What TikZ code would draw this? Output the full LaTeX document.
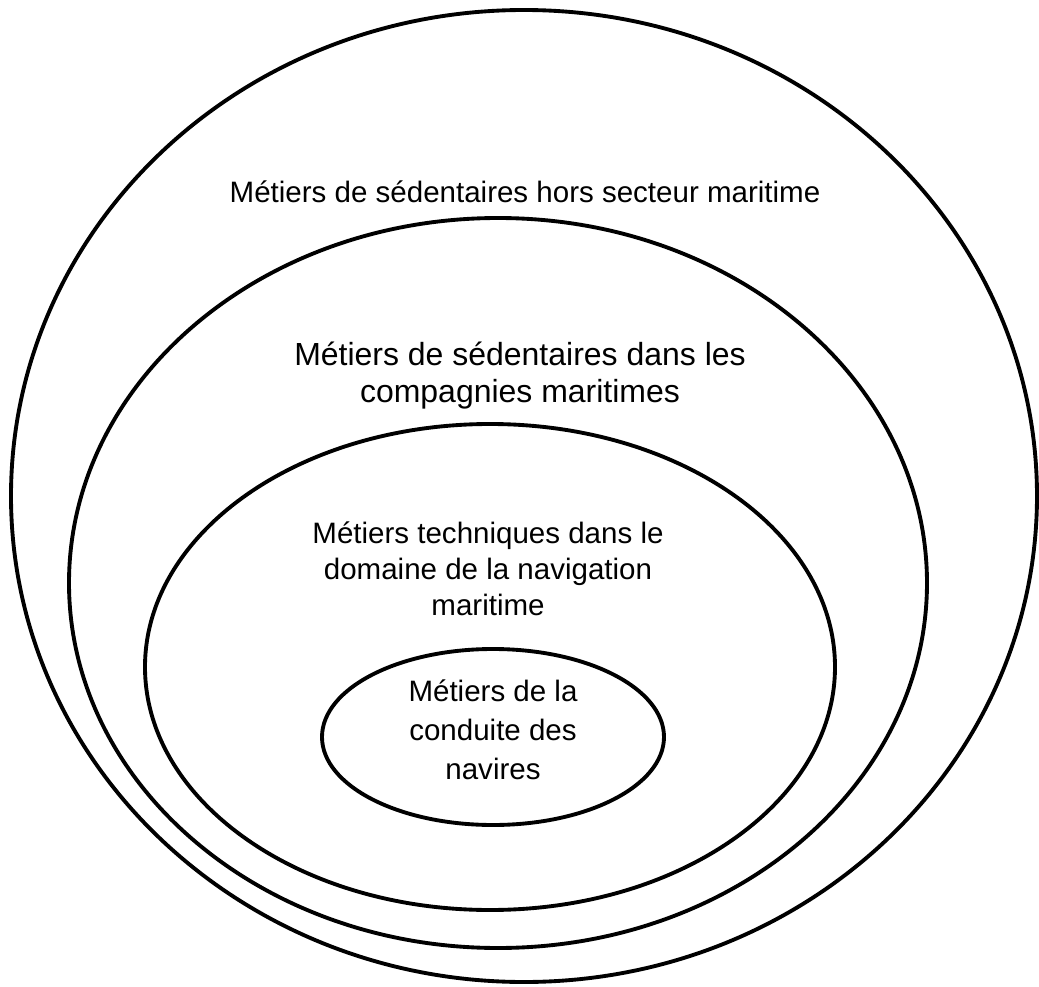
\documentclass[tikz,border=0pt]{standalone}
\usepackage{fontspec}
\setmainfont{Liberation Sans}
\usetikzlibrary{positioning}

\begin{document}
\begin{tikzpicture}[x=0.02cm, y=-0.02cm,
    ring/.style={line width=2.2pt, black},
    lbl/.style={align=center, inner sep=0pt, font=\fontsize{16.8}{19.35}\selectfont}]
  \useasboundingbox (0,0) rectangle (1039,987);
  % Nested ellipses
  \draw[ring] (524,496) ellipse [x radius=513, y radius=486];
  \draw[ring] (498,583) ellipse [x radius=429, y radius=365];
  \draw[ring] (490,667) ellipse [x radius=345, y radius=243];
  \draw[ring] (493,737) ellipse [x radius=171, y radius=88];
  % Labels
  \node[lbl] (hors) at (525,192) {Métiers de sédentaires hors secteur maritime};
  \node[lbl, font=\fontsize{18.2}{21.06}\selectfont] (compagnies) at (520,376) {Métiers de sédentaires dans les\\compagnies maritimes};
  \node[lbl, font=\fontsize{16.8}{20.5}\selectfont] (techniques) at (488,569) {Métiers techniques dans le\\domaine de la navigation\\maritime};
  \node[lbl, font=\fontsize{16.8}{22.2}\selectfont] (conduite) at (493,730) {Métiers de la\\conduite des\\navires};
\end{tikzpicture}
\end{document}
